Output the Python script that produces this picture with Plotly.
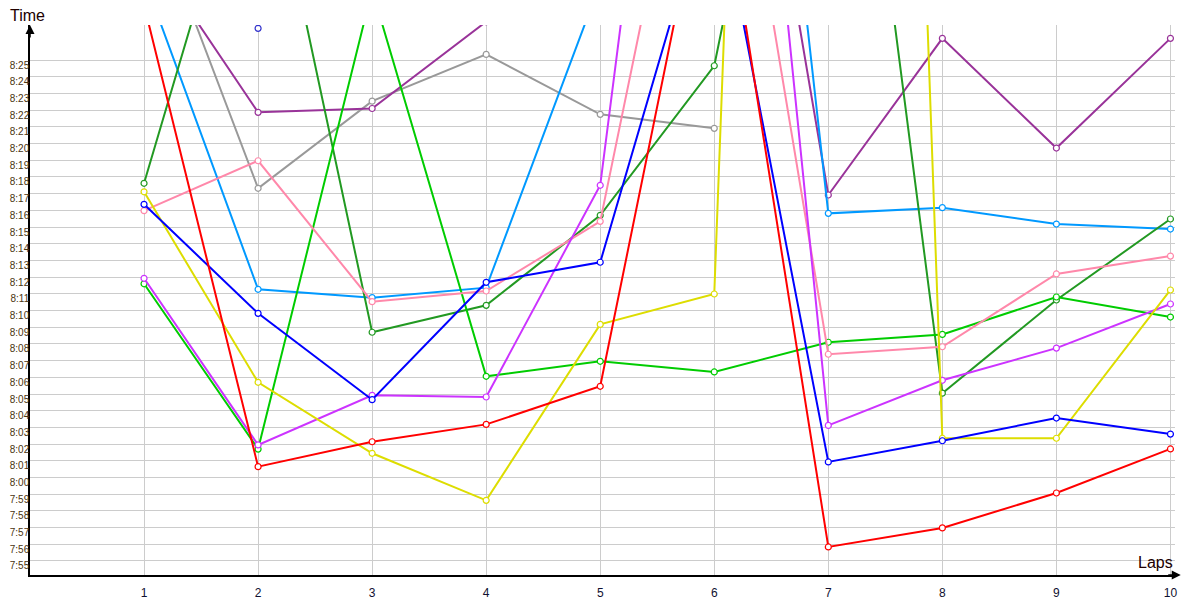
import plotly.graph_objects as go

# Lap times in seconds (7:55 = 475 s)
laps = [1, 2, 3, 4, 5, 6, 7, 8, 9, 10]

red = [508.3, 480.65, 482.14, 483.18, 485.46, 519.0, 475.84, 476.98, 479.07, 481.71]
blue = [496.36, 489.83, 484.66, 491.69, 492.89, 516.2, 480.93, 482.2, 483.56, 482.6]
light_blue = [509.9, 491.27, 490.77, 491.37, 509.6, 557.0, 495.82, 496.16, 495.18, 494.88]
green = [491.6, 481.7, 509.2, 486.06, 486.96, 486.32, 488.1, 488.57, 490.81, 489.61]
dark_green = [497.62, 520.7, 488.7, 490.31, 495.7, 504.66, 538.0, 485.05, 490.63, 495.48]
purple = [512.0, 501.87, 502.1, 507.3, 530.0, 537.0, 496.92, 506.3, 499.73, 506.3]
magenta = [491.93, 481.95, 484.92, 484.82, 497.5, 551.0, 483.12, 485.82, 487.75, 490.39]
pink = [495.98, 498.97, 490.53, 491.17, 495.34, 528.5, 487.38, 487.83, 492.19, 493.26]
gray = [515.3, 497.32, 502.54, 505.34, 501.75, 500.91]
yellow = [497.11, 485.7, 481.45, 478.63, 489.17, 490.99, 673.0, 482.35, 482.35, 491.23]
navy = [600.0, 506.9, 600.0]

y_tick_seconds = list(range(475, 506))
y_tick_labels = [f"{s // 60}:{s % 60:02d}" for s in y_tick_seconds]

SERIES = [
    (gray, '#999999'),
    (purple, '#993399'),
    (light_blue, '#0099ff'),
    (dark_green, '#229922'),
    (green, '#00cc00'),
    (pink, '#ff88aa'),
    (magenta, '#cc33ff'),
    (yellow, '#dddd00'),
    (blue, '#0000ff'),
    (red, '#ff0000'),
    (navy, '#3333cc'),
]

fig = go.Figure()
for values, color in SERIES:
    fig.add_trace(go.Scatter(
        x=laps[:len(values)],
        y=values,
        mode='lines+markers',
        line=dict(color=color, width=2),
        marker=dict(symbol='circle', size=6, color='white', line=dict(color=color, width=1.2)),
        showlegend=False,
        hovertemplate='Lap %{x}: %{y:.2f}s<extra></extra>'
    ))

# page body has an 8px margin, so the figure is a bit smaller than the window
fig.update_layout(
    width=1192, height=592,
    plot_bgcolor='white', paper_bgcolor='white',
    font=dict(family='Liberation Sans, Arial, sans-serif', color='#202020'),
    margin=dict(l=22, r=25, t=17, b=25, autoexpand=False),
    xaxis=dict(
        range=[0, 10.04], tickvals=laps, ticktext=[str(l) for l in laps],
        showgrid=True, gridcolor='#cccccc', gridwidth=1, zeroline=False,
        showline=True, linecolor='black', linewidth=1.5, automargin=False,
        ticks='', tickfont=dict(size=12, color='#101030'), ticklabelstandoff=6,
    ),
    yaxis=dict(
        range=[474.16, 507.1], tickvals=y_tick_seconds, ticktext=y_tick_labels,
        showgrid=True, gridcolor='#cccccc', gridwidth=1, zeroline=False,
        showline=True, linecolor='black', linewidth=1.5, automargin=False,
        ticks='', ticklabelstandoff=-3, ticklabelshift=5,
        tickfont=dict(size=10, color='#4a3410'),
    ),
    annotations=[
        dict(xref='paper', yref='paper', x=0, y=1.0, ax=0, ay=14, text='', showarrow=True,
             arrowhead=2, arrowsize=1.2, arrowwidth=1.5, arrowcolor='black'),
        dict(xref='paper', yref='paper', x=1.005, y=0, ax=-14, ay=0, text='', showarrow=True,
             arrowhead=2, arrowsize=1.2, arrowwidth=1.5, arrowcolor='black'),
        dict(xref='paper', yref='paper', x=-0.0192, y=1.0, yshift=-1, xanchor='left', yanchor='bottom',
             text='Time', showarrow=False, font=dict(size=16, color='#200000')),
        dict(xref='paper', yref='paper', x=1.0, y=0, yshift=2, xanchor='right', yanchor='bottom',
             text='Laps', showarrow=False, font=dict(size=16, color='#200000')),
    ],
)

fig.write_html("out.html")
